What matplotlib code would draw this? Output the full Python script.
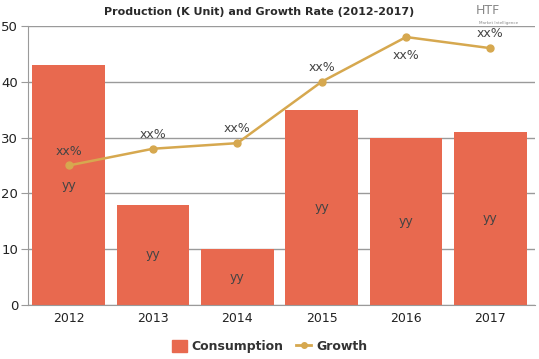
import matplotlib.pyplot as plt
import numpy as np
from matplotlib.lines import Line2D
from matplotlib.patches import Patch

# chart data
years = ['2012', '2013', '2014', '2015', '2016', '2017']
consumption = [43, 18, 10, 35, 30, 31]
growth = [25, 28, 29, 40, 48, 46]
bar_labels = ['yy'] * 6
growth_labels = ['xx%'] * 6

bar_color = '#E8694F'
line_color = '#D6A84F'

fig = plt.figure(figsize=(5.39, 3.59), dpi=100)
ax = fig.add_axes([0.052, 0.150, 0.941, 0.778])

x = np.arange(len(years))
ax.bar(x, consumption, width=0.86, color=bar_color, zorder=2)
ax.plot(x, growth, color=line_color, lw=1.8, marker='o', ms=5, zorder=3)

for xi, v, lab in zip(x, consumption, bar_labels):
    ax.text(xi, v / 2, lab, ha='center', va='center', fontsize=9, color='#444444', zorder=4)

for xi, g, lab in zip(x, growth, growth_labels):
    if g > 46.5:
        ax.text(xi, g - 2.2, lab, ha='center', va='top', fontsize=9, color='#444444', zorder=4)
    else:
        ax.text(xi, g + 1.4, lab, ha='center', va='bottom', fontsize=9, color='#444444', zorder=4)

ax.set_xlim(-0.48, 5.53)
ax.set_ylim(0, 50)
ax.set_yticks(range(0, 51, 10))
ax.set_xticks(x)
ax.set_xticklabels(years)
ax.yaxis.grid(True, color='#9a9a9a', lw=1, zorder=0)
ax.set_axisbelow(True)
for s in ['top', 'right']:
    ax.spines[s].set_visible(False)
ax.spines['left'].set_color('#9a9a9a')
ax.spines['bottom'].set_color('#9a9a9a')
ax.tick_params(axis='y', length=5, color='#9a9a9a', labelsize=9.5, pad=2, labelcolor='#222222')
ax.tick_params(axis='x', length=0, labelsize=9, pad=5, labelcolor='#222222')

fig.text(0.48, 0.966, 'Production (K Unit) and Growth Rate (2012-2017)', ha='center', va='center',
         fontsize=8, fontweight='bold', color='#2a2a2a')

# logo
fig.text(0.905, 0.972, 'HTF', ha='center', va='center', fontsize=9, color='#888888')
fig.text(0.925, 0.935, 'Market Intelligence', ha='center', va='center', fontsize=3, color='#888888')

handles = [Patch(color=bar_color, label='Consumption'),
           Line2D([0], [0], color=line_color, lw=2, marker='o', ms=4, label='Growth')]
fig.legend(handles=handles, loc='center', bbox_to_anchor=(0.5, 0.035), ncol=2, frameon=False,
           handlelength=1.2, handleheight=1.2, columnspacing=1.0, handletextpad=0.4,
           prop={'weight': 'bold', 'size': 9}, labelcolor='#333333')

fig.savefig('out.png', dpi=100)
